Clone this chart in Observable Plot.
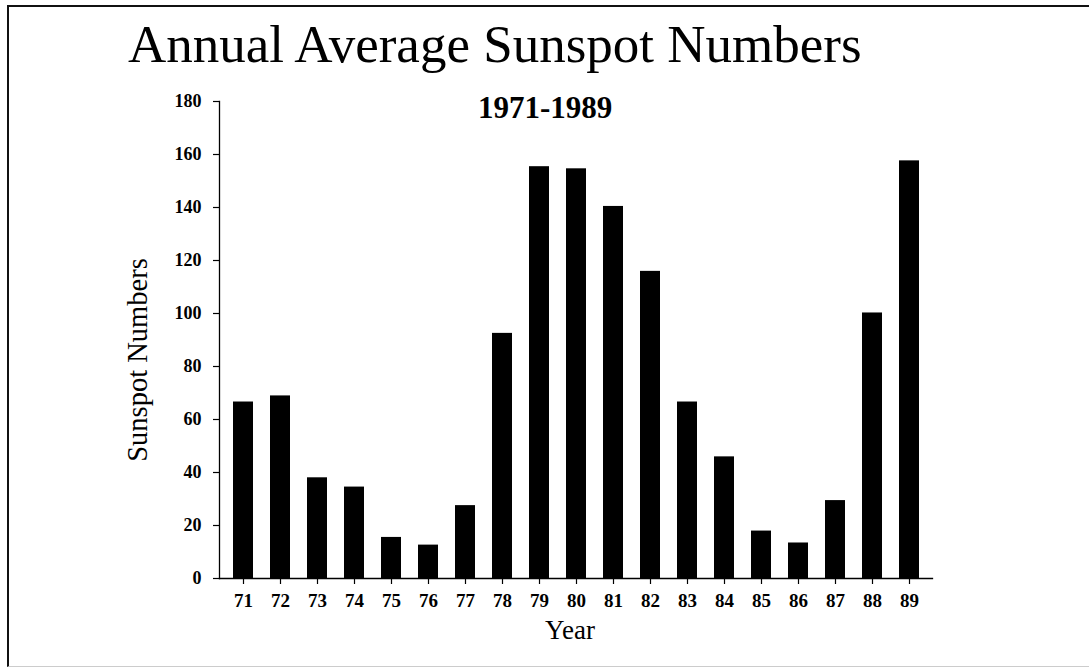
<!DOCTYPE html>
<html>
<head>
<meta charset="utf-8">
<script src="https://cdn.jsdelivr.net/npm/d3@7"></script>
<script src="https://cdn.jsdelivr.net/npm/@observablehq/plot@0.6"></script>
<style>
  html, body { margin: 0; padding: 0; background: #fff; }
  #wrap { position: relative; width: 1089px; height: 670px; overflow: hidden; font-family: "Liberation Serif", "DejaVu Serif", serif; color: #000; }
  #frame { position: absolute; left: 7px; top: 5px; width: 1090px; height: 662px; border-left: 2.5px solid #111; border-top: 2.5px solid #111; border-bottom: 1.5px solid #ccc; box-sizing: border-box; }
  #chart { position: absolute; left: 0; top: 0; }
  .t { position: absolute; white-space: nowrap; }
  #title { left: 128px; top: 18px; font-size: 53px; line-height: 52px; }
  #subtitle { left: 478px; top: 93px; font-size: 31px; line-height: 30px; font-weight: bold; }
  #ylabel { left: 146px; top: 360px; font-size: 28.5px; line-height: 28px; transform-origin: 0 0; transform: rotate(-90deg) translate(-50%, -22px); }
  #xlabel { left: 570px; top: 617px; font-size: 27px; line-height: 27px; transform: translateX(-50%); }
  #chart svg text { font-family: "Liberation Serif", serif !important; font-weight: bold !important; font-size: 18px !important; }
  #chart svg g[aria-label="x-axis tick label"] text { font-size: 19px !important; }
</style>
</head>
<body>
<div id="wrap">
  <div id="frame"></div>
  <div id="chart"></div>
  <div class="t" id="title">Annual Average Sunspot Numbers</div>
  <div class="t" id="subtitle">1971-1989</div>
  <div class="t" id="ylabel">Sunspot Numbers</div>
  <div class="t" id="xlabel">Year</div>
</div>
<script>
const years = ["71","72","73","74","75","76","77","78","79","80","81","82","83","84","85","86","87","88","89"];
const sunspots = [66.6, 68.9, 38.0, 34.5, 15.5, 12.6, 27.5, 92.5, 155.4, 154.6, 140.4, 115.9, 66.6, 45.9, 17.9, 13.4, 29.4, 100.2, 157.6];
const yTicks = [0, 20, 40, 60, 80, 100, 120, 140, 160, 180];

const data = years.map((y, i) => ({year: y, value: sunspots[i]}));

const chart = Plot.plot({
  width: 1089,
  height: 670,
  marginLeft: 219,
  marginRight: 157,
  marginTop: 101,
  marginBottom: 92,
  style: {background: "transparent", color: "#000", fontSize: "18px", fontWeight: "bold", fontFamily: "Liberation Serif, serif"},
  x: {type: "band", domain: years, paddingInner: 0.47, paddingOuter: 0.235, align: 0.5},
  y: {domain: [0, 180]},
  marks: [
    Plot.barY(data, {x: "year", y: "value", fill: "#000"}),
    Plot.frame({anchor: "left", stroke: "#000", strokeWidth: 1.3}),
    Plot.frame({anchor: "bottom", stroke: "#000", strokeWidth: 1.3}),
    Plot.axisY({ticks: yTicks, tickSize: 6, tickPadding: 12, label: null, stroke: "#000", strokeWidth: 1.2, fontSize: 18}),
    Plot.axisX({tickSize: 6, tickPadding: 9, label: null, stroke: "#000", strokeWidth: 1.2, fontSize: 19})
  ]
});
document.getElementById("chart").appendChild(chart);
</script>
</body>
</html>
